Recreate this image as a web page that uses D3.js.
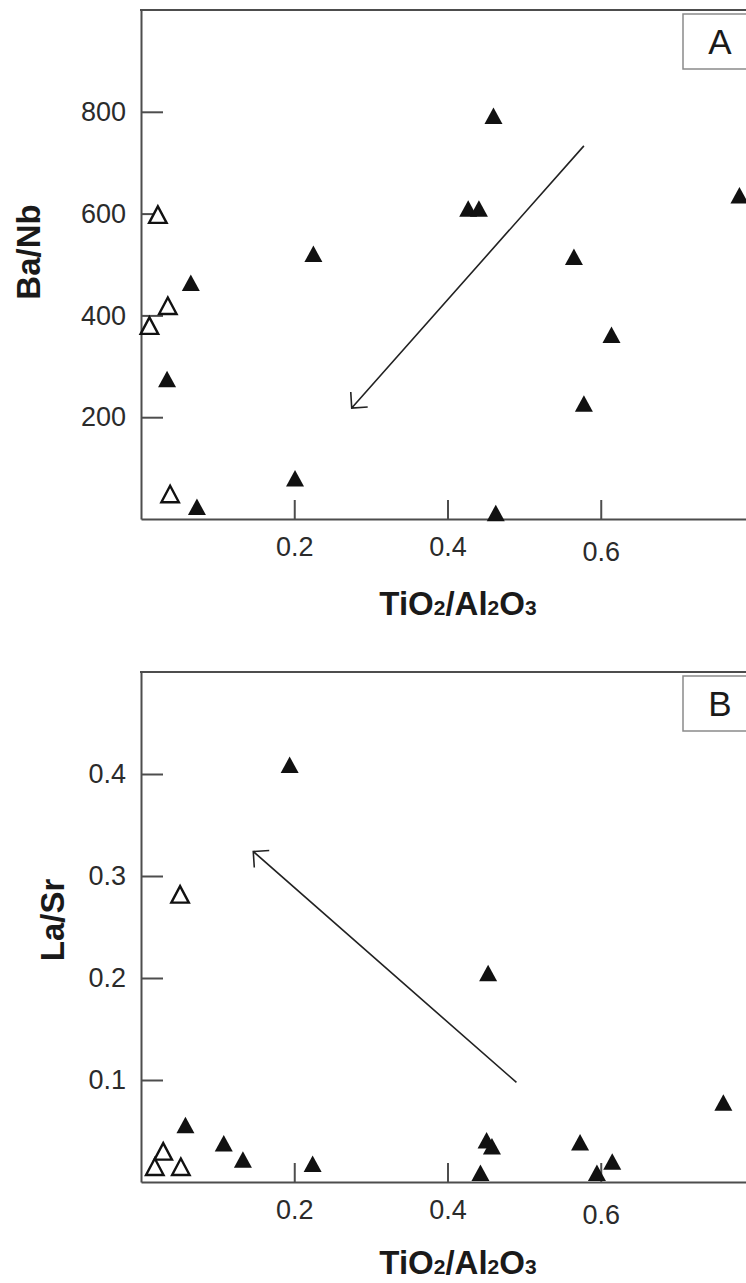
<!DOCTYPE html>
<html>
<head>
<meta charset="utf-8">
<script src="https://cdn.jsdelivr.net/npm/d3@7"></script>
<style>
  body { margin: 0; background: #fff; }
  svg { display: block; font-family: "Liberation Sans", Arial, sans-serif; }
  .tick text { font-size: 27px; fill: #2b2b2b; }
  .domain, .tick line { stroke: #4d4d4d; stroke-width: 2; }
  .title { font-size: 33px; font-weight: bold; fill: #1a1a1a; }
  .tag { font-size: 35px; fill: #1a1a1a; }
</style>
</head>
<body>
<div id="container"></div>
<script>
// tick labels
const xTicks = [0.2, 0.4, 0.6];
const baNbTicks = [200, 400, 600, 800];
const laSrTicks = [0.1, 0.2, 0.3, 0.4];

// panel A: Ba/Nb vs TiO2/Al2O3
const baNbFilledX = [0.460, 0.427, 0.441, 0.225, 0.565, 0.781, 0.614, 0.578, 0.201, 0.463, 0.065, 0.034, 0.073];
const baNbFilledY = [792, 610, 610, 521, 515, 636, 362, 227, 80, 12, 464, 275, 24];
const baNbOpenX = [0.022, 0.035, 0.011, 0.038];
const baNbOpenY = [598, 419, 380, 49];
const baNbArrow = [[0.578, 733], [0.275, 218]];

// panel B: La/Sr vs TiO2/Al2O3
const laSrFilledX = [0.194, 0.453, 0.760, 0.451, 0.458, 0.573, 0.615, 0.595, 0.443, 0.224, 0.058, 0.108, 0.133];
const laSrFilledY = [0.409, 0.205, 0.078, 0.041, 0.035, 0.039, 0.020, 0.009, 0.009, 0.018, 0.056, 0.038, 0.022];
const laSrOpenX = [0.051, 0.029, 0.018, 0.052];
const laSrOpenY = [0.282, 0.030, 0.015, 0.015];
const laSrArrow = [[0.490, 0.0976], [0.1465, 0.324]];

const width = 746;
const height = 1283;

const svg = d3.select('#container').append('svg')
  .attr('width', width)
  .attr('height', height);

svg.append('rect').attr('width', width).attr('height', height).attr('fill', '#fff');

// the plot runs past the right edge of the picture (cropped like the original)
const xScale = d3.scaleLinear().domain([0, 0.8]).range([141, 754]);

// triangle centred on its bounding box
const tri = (w, h) => ({
  draw(ctx) {
    ctx.moveTo(0, -h / 2);
    ctx.lineTo(w / 2, h / 2);
    ctx.lineTo(-w / 2, h / 2);
    ctx.closePath();
  }
});
const filledTri = d3.symbol().type(tri(18, 16.5))();
const openTri = d3.symbol().type(tri(17.5, 16.5))();

function drawPanel(p) {
  const yScale = d3.scaleLinear().domain(p.yDomain).range([p.bottom, p.top]);
  const g = svg.append('g');

  // top border
  g.append('line')
    .attr('x1', xScale(0) - 1).attr('x2', xScale(0.8))
    .attr('y1', p.top).attr('y2', p.top)
    .attr('stroke', '#4d4d4d').attr('stroke-width', 2);

  // panel tag box
  g.append('rect')
    .attr('x', 683).attr('y', p.top + 4)
    .attr('width', 120).attr('height', 55)
    .attr('fill', '#fff').attr('stroke', '#8a8a8a').attr('stroke-width', 1.5);
  g.append('text')
    .attr('class', 'tag')
    .attr('x', 720).attr('y', p.top + 44)
    .attr('text-anchor', 'middle')
    .text(p.tag);

  g.append('g')
    .attr('transform', `translate(${xScale(0)},0)`)
    .call(d3.axisLeft(yScale)
      .tickValues(p.yTicks)
      .tickFormat(p.yFormat)
      .tickSizeInner(-22)
      .tickSizeOuter(0)
      .tickPadding(15));

  const xAxis = g.append('g')
    .attr('transform', `translate(0,${p.bottom})`)
    .call(d3.axisBottom(xScale)
      .tickValues(xTicks)
      .tickFormat(d3.format('.1f'))
      .tickSizeInner(-19)
      .tickSizeOuter(0)
      .tickPadding(18));
  xAxis.selectAll('.tick text').filter((d) => d === 0.6).attr('y', 23);

  // trend arrow
  const [a, b] = p.arrow.map((d) => [xScale(d[0]), yScale(d[1])]);
  const ang = Math.atan2(a[1] - b[1], a[0] - b[0]);
  const arm = 16;
  const head = [ang - Math.PI / 4, ang + Math.PI / 4]
    .map((t) => [b[0] + arm * Math.cos(t), b[1] + arm * Math.sin(t)]);
  g.append('path')
    .attr('d', `M${a[0]},${a[1]}L${b[0]},${b[1]}M${head[0][0]},${head[0][1]}L${b[0]},${b[1]}L${head[1][0]},${head[1][1]}`)
    .attr('fill', 'none').attr('stroke', '#222').attr('stroke-width', 1.6);

  g.selectAll('.filled')
    .data(d3.zip(p.filledX, p.filledY))
    .enter().append('path')
    .attr('class', 'filled')
    .attr('d', filledTri)
    .attr('transform', (d) => `translate(${xScale(d[0])},${yScale(d[1])})`)
    .attr('fill', '#111');

  g.selectAll('.open')
    .data(d3.zip(p.openX, p.openY))
    .enter().append('path')
    .attr('class', 'open')
    .attr('d', openTri)
    .attr('transform', (d) => `translate(${xScale(d[0])},${yScale(d[1])})`)
    .attr('fill', '#fff')
    .attr('stroke', '#111')
    .attr('stroke-width', 2.4)
    .attr('stroke-linejoin', 'miter');

  // y title
  g.append('text')
    .attr('class', 'title')
    .attr('transform', `translate(${p.yLabelX},${p.yLabelY}) rotate(-90)`)
    .attr('text-anchor', 'middle')
    .text(p.yLabel);

  // x title with small subscript digits
  const xt = g.append('text')
    .attr('class', 'title')
    .attr('x', 458).attr('y', p.bottom + p.xLabelDy)
    .attr('text-anchor', 'middle');
  [['TiO', false], ['2', true], ['/Al', false], ['2', true], ['O', false], ['3', true]]
    .forEach(([s, sub]) => {
      xt.append('tspan')
        .style('font-size', sub ? '21px' : null)
        .text(s);
    });
}

drawPanel({
  top: 10, bottom: 519, yDomain: [0, 1000], yTicks: baNbTicks, yFormat: d3.format('d'),
  filledX: baNbFilledX, filledY: baNbFilledY, openX: baNbOpenX, openY: baNbOpenY,
  arrow: baNbArrow, tag: 'A', yLabel: 'Ba/Nb', yLabelX: 40, yLabelY: 252, xLabelDy: 96
});

drawPanel({
  top: 672, bottom: 1182, yDomain: [0, 0.5], yTicks: laSrTicks, yFormat: d3.format('.1f'),
  filledX: laSrFilledX, filledY: laSrFilledY, openX: laSrOpenX, openY: laSrOpenY,
  arrow: laSrArrow, tag: 'B', yLabel: 'La/Sr', yLabelX: 64, yLabelY: 920, xLabelDy: 92
});
</script>
</body>
</html>
